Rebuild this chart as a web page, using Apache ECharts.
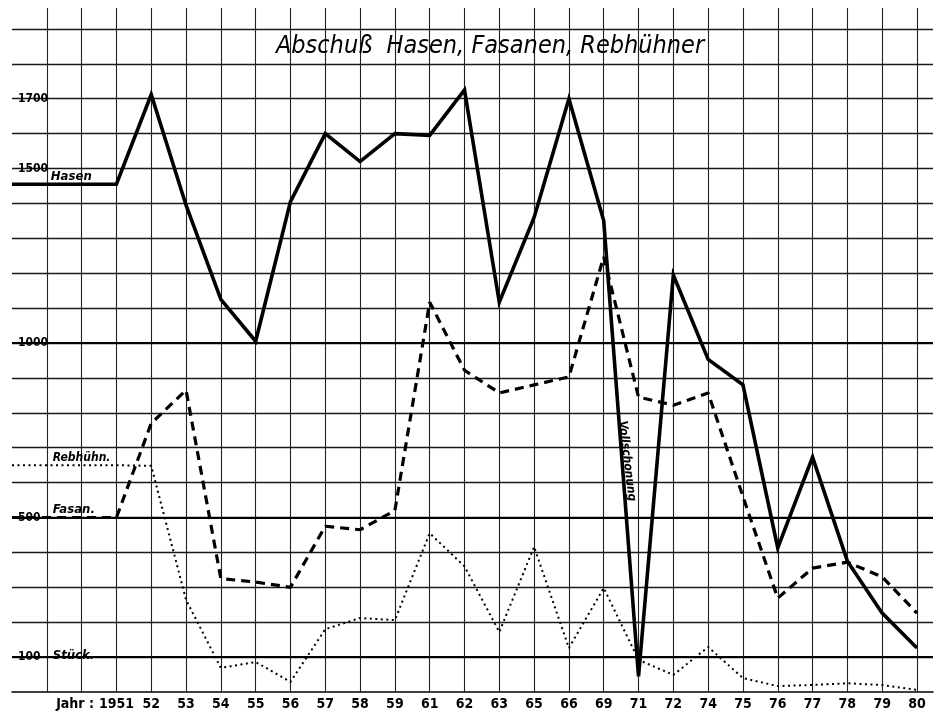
<!DOCTYPE html>
<html>
<head>
<meta charset="utf-8">
<script src="https://cdn.jsdelivr.net/npm/echarts@6/dist/echarts.min.js"></script>
<style>
  html, body { margin: 0; padding: 0; background: #fff; }
  #chart { width: 940px; height: 715px; }
</style>
</head>
<body>
<div id="chart"></div>
<script>
// ---- data ----
const years = ['1951','52','53','54','55','56','57','58','59','61','62','63','65','66','69','71','72','74','75','76','77','78','79','80'];
const leadLabels = ['', '', 'Jahr :   '];     // three grid columns left of 1951
const hasen      = [1455, 1712, 1395, 1125, 1005, 1405, 1600, 1520, 1600, 1595, 1725, 1117, 1360, 1700, 1350, 45, 1195, 953, 880, 413, 673, 375, 226, 126];
const fasanen    = [500, 770, 865, 325, 315, 300, 475, 465, 520, 1117, 922, 857, 880, 903, 1247, 845, 822, 857, 560, 269, 355, 372, 330, 226];
const rebhuehner = [650, 648, 264, 69, 86, 29, 180, 212, 206, 455, 360, 172, 416, 126, 298, 92, 49, 129, 40, 17, 20, 25, 20, 6];
const yTickLabels = { 1700: '1700', 1500: '1500', 1000: '1000', 500: '500', 100: '100' };
const titleText = 'Abschuß  Hasen, Fasanen, Rebhühner';

const xLabels = leadLabels.concat(years);
const OFFSET = leadLabels.length;

function toPairs(arr) {
  // lead-in line from the left edge at the 1951 level, then one point per year
  const pts = [[-OFFSET, arr[0]]];
  arr.forEach((v, i) => pts.push([i, v]));
  return pts;
}

const chart = echarts.init(document.getElementById('chart'), null, { renderer: 'canvas' });

const hand = 'Liberation Sans Narrow, DejaVu Sans Condensed, sans-serif';

chart.setOption({
  animation: false,
  backgroundColor: '#ffffff',
  grid: { left: 12, right: 7, top: 8, bottom: 23, containLabel: false },
  xAxis: {
    type: 'value',
    min: -OFFSET,
    max: 23.46,
    interval: 1,
    axisLine: { show: true, onZero: false, lineStyle: { color: '#000', width: 1.5 } },
    axisTick: { show: false },
    axisLabel: {
      show: true,
      margin: 5,
      color: '#000',
      fontFamily: hand,
      fontSize: 14,
      fontWeight: 'bold',
      formatter: function (v) {
        const r = Math.round(v);
        if (Math.abs(v - r) > 1e-6) return '';
        return xLabels[r + OFFSET] || '';
      }
    },
    splitLine: { show: true, showMinLine: false, showMaxLine: false, lineStyle: { color: '#222', width: 1.1 } }
  },
  yAxis: {
    type: 'value',
    min: 0,
    max: 1960,
    interval: 100,
    axisLine: { show: false },
    axisTick: { show: false },
    axisLabel: {
      inside: true,
      margin: 6,
      color: '#000',
      fontFamily: hand,
      fontSize: 12,
      fontWeight: 'bold',
      formatter: function (v) { return yTickLabels[v] || ''; }
    },
    splitLine: { show: true, showMinLine: false, showMaxLine: false, lineStyle: { color: '#1a1a1a', width: 1.3 } }
  },
  series: [
    {
      name: 'Hasen',
      type: 'line',
      data: toPairs(hasen),
      symbol: 'none',
      lineStyle: { color: '#000', width: 3.6, type: 'solid', join: 'miter' },
      z: 5,
      markLine: {
        silent: true,
        symbol: 'none',
        label: { show: false },
        lineStyle: { color: '#000', width: 2.2, type: 'solid' },
        data: [{ yAxis: 1000 }, { yAxis: 500 }, { yAxis: 100 }]
      }
    },
    {
      name: 'Fasanen',
      type: 'line',
      data: toPairs(fasanen),
      symbol: 'none',
      lineStyle: { color: '#000', width: 3.2, type: [9, 6] },
      z: 4
    },
    {
      name: 'Rebhühner',
      type: 'line',
      data: toPairs(rebhuehner),
      symbol: 'none',
      lineStyle: { color: '#000', width: 2, type: [2, 3.5] },
      z: 3
    }
  ]
});

function px(x, y) { return chart.convertToPixel({ gridIndex: 0 }, [x, y]); }

const pH = px(-2, hasen[0]);
const pR = px(-2, rebhuehner[0]);
const pF = px(-2, fasanen[0]);
const pS = px(-2, 100);
const pV = px(14.67, 662);

const labelStyle = { fill: '#000', fontFamily: hand, fontSize: 13, fontWeight: 'bold', fontStyle: 'italic' };

chart.setOption({
  graphic: [
    { type: 'text', x: 490, y: 46, z: 20,
      style: { text: titleText, fill: '#000', fontFamily: hand, fontSize: 25, fontStyle: 'italic',
               textAlign: 'center', textVerticalAlign: 'middle' } },
    { type: 'text', x: pH[0] + 4, y: pH[1] - 1, z: 20,
      style: Object.assign({ text: 'Hasen', textVerticalAlign: 'bottom' }, labelStyle) },
    { type: 'text', x: pR[0] + 6, y: pR[1] - 1, z: 20,
      style: Object.assign({ text: 'Rebhühn.', textVerticalAlign: 'bottom' }, labelStyle, { fontSize: 12 }) },
    { type: 'text', x: pF[0] + 6, y: pF[1] - 1, z: 20,
      style: Object.assign({ text: 'Fasan.', textVerticalAlign: 'bottom' }, labelStyle) },
    { type: 'text', x: pS[0] + 6, y: pS[1] - 1, z: 20,
      style: Object.assign({ text: 'Stück.', textVerticalAlign: 'middle' }, labelStyle) },
    { type: 'text', x: pV[0], y: pV[1], rotation: -1.45, z: 20,
      style: Object.assign({ text: 'Vollschonung', textAlign: 'center', textVerticalAlign: 'middle' }, labelStyle, { fontSize: 12 }) }
  ]
});
</script>
</body>
</html>
